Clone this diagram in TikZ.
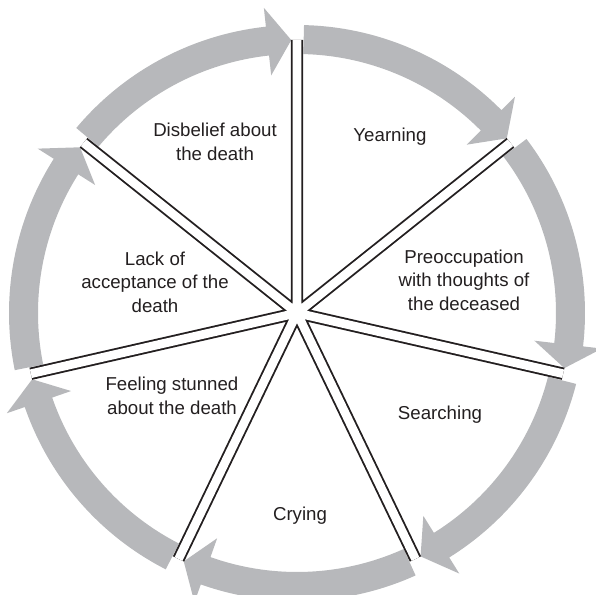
\documentclass[tikz,border=0pt]{standalone}
\usepackage{fontspec}
\setmainfont{Liberation Sans}
\definecolor{ringgray}{RGB}{183,184,187}
\definecolor{ink}{RGB}{35,31,32}
\tikzset{
  spoke/.style={draw=ink,line width=1.4pt,double=white,double distance=6.5pt},
  stagetext/.style={align=center,text=ink,font=\fontsize{14}{17.6}\selectfont}
}

\begin{document}
\begin{tikzpicture}[x=0.75pt,y=0.75pt]
  \useasboundingbox (-297,-282) rectangle (299,313);
  \coordinate (hub) at (0,0);
  \foreach \k in {0,...,6}{
    \pgfmathsetmacro\a{90-\k*360/7}
    \pgfmathsetmacro\b{\a-360/7}
    \fill[ringgray] (\a-1.4:259) arc[start angle=\a-1.4,end angle=\b+6.2,radius=259]
      -- (\b+6.2:239) -- (\b+1.2:273) -- (\b+6.2:307) -- (\b+6.2:288)
      arc[start angle=\b+6.2,end angle=\a-1.4,radius=288] -- cycle;
    \coordinate (s\k) at (\a:273);
  }
  \draw[spoke] foreach \k in {0,...,6} {(hub) -- (s\k)};
  \node[stagetext] (disbelief) at (-82,171) {Disbelief about\\the death};
  \node[stagetext] (yearning) at (93,176) {Yearning};
  \node[stagetext] (preocc) at (167,33) {Preoccupation\\with thoughts of\\the deceased};
  \node[stagetext] (searching) at (143,-102) {Searching};
  \node[stagetext] (crying) at (3,-203) {Crying};
  \node[stagetext] (stunned) at (-125,-83) {Feeling stunned\\about the death};
  \node[stagetext] (lack) at (-142,31) {Lack of\\acceptance of the\\death};
\end{tikzpicture}
\end{document}
